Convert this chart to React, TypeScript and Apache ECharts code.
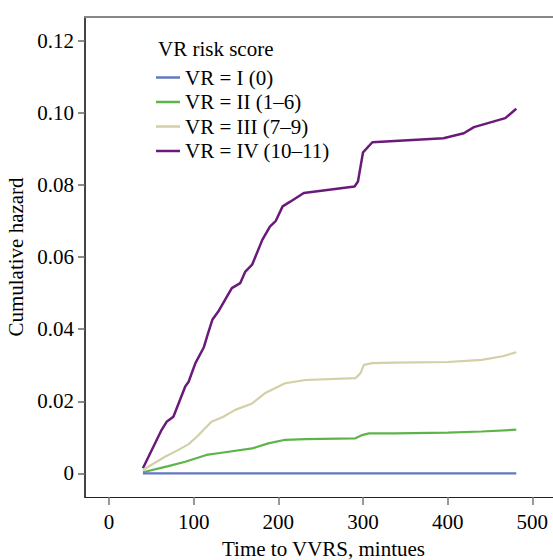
import React, { useEffect, useRef } from "react";
import * as echarts from "echarts";

const seriesNames = ["VR = I (0)", "VR = II (1\u20136)", "VR = III (7\u20139)", "VR = IV (10\u201311)"];
const seriesColors = ["#6577c2", "#5db54a", "#d3cfa6", "#6a1b7a"];

const tI = [40, 481];
const yI = [0, 0];

const tII = [40, 70, 90, 115, 133, 169, 188, 208, 232, 291, 299, 307, 338, 400, 440, 481];
const yII = [0.0003, 0.002, 0.0032, 0.0051, 0.0057, 0.0069, 0.0083, 0.0093, 0.0095, 0.0097, 0.0106, 0.0111, 0.0111, 0.0113, 0.0116, 0.0121];

const tIII = [40, 66, 82, 94, 104, 121, 135, 149, 169, 184, 196, 208, 232, 291, 297, 301, 311, 338, 400, 440, 465, 481];
const yIII = [0.0009, 0.0046, 0.0065, 0.0081, 0.0102, 0.0143, 0.0157, 0.0176, 0.0194, 0.0222, 0.0236, 0.025, 0.0259, 0.0264, 0.0278, 0.0301, 0.0306, 0.0307, 0.0309, 0.0315, 0.0325, 0.0336];

const tIV = [40, 62, 68, 76, 90, 94, 102, 112, 117, 122, 129, 145, 155, 161, 169, 181, 190, 197, 205, 214, 230, 290, 294, 300, 311, 395, 419, 431, 468, 481];
const yIV = [0.0014, 0.012, 0.0143, 0.0157, 0.0241, 0.0254, 0.0306, 0.035, 0.0389, 0.0426, 0.0449, 0.0514, 0.0528, 0.056, 0.0579, 0.0648, 0.0685, 0.0701, 0.0741, 0.0754, 0.0778, 0.0796, 0.081, 0.0891, 0.0919, 0.093, 0.0944, 0.0961, 0.0986, 0.1012];

const xTicks = [0, 100, 200, 300, 400, 500];
const yTicks = [0, 0.02, 0.04, 0.06, 0.08, 0.1, 0.12];

const FONT = "Liberation Serif";
const FS = 21;

export default function App() {
  const ref = useRef<HTMLDivElement>(null);
  useEffect(() => {
    if (!ref.current) return;
    const chart = echarts.init(ref.current, undefined, { renderer: "svg" });
    const ts = [tI, tII, tIII, tIV];
    const ys = [yI, yII, yIII, yIV];
    chart.setOption({
      animation: false,
      backgroundColor: "#ffffff",
      textStyle: { fontFamily: FONT },
      grid: {
        left: 85,
        top: 17,
        right: -9,
        height: 480,
        show: false,
        containLabel: false,
        outerBoundsMode: "none",
      },
      graphic: [
        {
          type: "text",
          left: 158,
          top: 38,
          style: { text: "VR risk score", font: `${FS}px "${FONT}"`, fill: "#000" },
        },
      ],
      legend: {
        data: seriesNames,
        orient: "vertical",
        left: 156,
        top: 67,
        icon: "rect",
        itemWidth: 24,
        itemHeight: 2.5,
        itemGap: 3.5,
        padding: 0,
        textStyle: { fontFamily: FONT, fontSize: FS, color: "#000", lineHeight: 20 },
      },
      xAxis: [
        {
          type: "value",
          min: -28.4,
          max: 535,
          name: "Time to VVRS, mintues",
          nameLocation: "middle",
          nameGap: 41,
          nameTextStyle: { fontFamily: FONT, fontSize: FS, color: "#000" },
          splitLine: { show: false },
          axisLine: { show: true, onZero: false, lineStyle: { color: "#222", width: 1.2 } },
          axisTick: { show: true, length: 8, customValues: xTicks, lineStyle: { color: "#777", width: 1.5 } },
          axisLabel: {
            customValues: xTicks,
            margin: 14,
            fontFamily: FONT,
            fontSize: FS,
            color: "#000",
          },
        },
        {
          type: "value",
          position: "top",
          min: -28.4,
          max: 535,
          splitLine: { show: false },
          axisLine: { show: true, onZero: false, lineStyle: { color: "#888", width: 2.2 } },
          axisTick: { show: false },
          axisLabel: { show: false },
        },
      ],
      yAxis: {
        type: "value",
        min: -0.00658,
        max: 0.12667,
        name: "Cumulative hazard",
        nameLocation: "middle",
        nameGap: 55,
        nameTextStyle: { fontFamily: FONT, fontSize: FS, color: "#000" },
        splitLine: { show: false },
        axisLine: { show: true, onZero: false, lineStyle: { color: "#444", width: 2 } },
        axisTick: { show: true, length: 7, customValues: yTicks, lineStyle: { color: "#666", width: 1.5 } },
        axisLabel: {
          customValues: yTicks,
          margin: 11,
          fontFamily: FONT,
          fontSize: FS,
          color: "#000",
          formatter: (v: number) => (v === 0 ? "0" : v.toFixed(2)),
        },
      },
      series: seriesNames.map((name, i) => ({
        name,
        type: "line",
        showSymbol: false,
        symbol: "none",
        color: seriesColors[i],
        lineStyle: { color: seriesColors[i], width: i === 3 ? 2.5 : 2.2 },
        data: ts[i].map((t, j) => [t, ys[i][j]]),
        z: 10 - i,
      })),
    });
    return () => chart.dispose();
  }, []);
  return (
    <div
      ref={ref}
      style={{ position: "fixed", left: 0, top: 0, width: 553, height: 560 }}
    />
  );
}
